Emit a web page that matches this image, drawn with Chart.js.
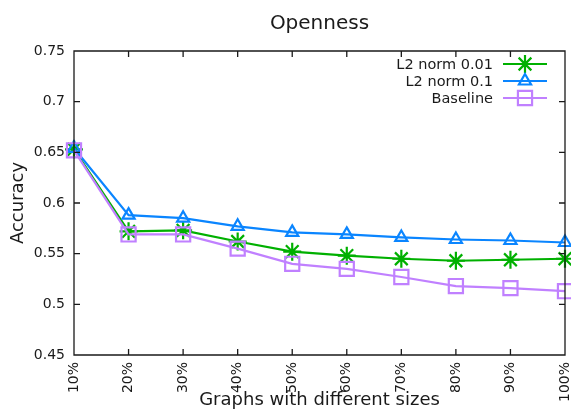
<!DOCTYPE html>
<html>
<head>
<meta charset="utf-8">
<script src="https://cdn.jsdelivr.net/npm/chart.js@4/dist/chart.umd.min.js"></script>
<style>
  html, body { margin: 0; padding: 0; background: #fff; }
  canvas { display: block; }
</style>
</head>
<body>
<canvas id="chart" width="571" height="415"></canvas>
<script>
// Graph size categories
const sizeLabels = ['10%', '20%', '30%', '40%', '50%', '60%', '70%', '80%', '90%', '100%'];

// Accuracy per setting
const l2Norm001 = [0.653, 0.572, 0.573, 0.562, 0.552, 0.548, 0.545, 0.543, 0.544, 0.545];
const l2Norm01  = [0.654, 0.588, 0.585, 0.577, 0.571, 0.569, 0.566, 0.564, 0.563, 0.561];
const baseline  = [0.652, 0.569, 0.569, 0.555, 0.540, 0.535, 0.527, 0.518, 0.516, 0.513];

// Y axis ticks
const yTickValues = [0.45, 0.5, 0.55, 0.6, 0.65, 0.7, 0.75];
const yTickLabels = ['0.45', '0.5', '0.55', '0.6', '0.65', '0.7', '0.75'];

const FONT = 'DejaVu Sans';
const INK = '#1a1a1a';

// Frame around the plot with inward ticks on all four sides
const framePlugin = {
  id: 'frame',
  afterDatasetsDraw(chart) {
    const { ctx, chartArea: a, scales: { x, y } } = chart;
    const t = 6;
    ctx.save();
    ctx.strokeStyle = INK;
    ctx.lineWidth = 1.3;
    ctx.beginPath();
    ctx.rect(a.left, a.top, a.right - a.left, a.bottom - a.top);
    for (let i = 0; i < sizeLabels.length; i++) {
      const px = x.getPixelForValue(i);
      ctx.moveTo(px, a.bottom); ctx.lineTo(px, a.bottom - t);
      ctx.moveTo(px, a.top); ctx.lineTo(px, a.top + t);
    }
    for (const v of yTickValues) {
      const py = y.getPixelForValue(v);
      ctx.moveTo(a.left, py); ctx.lineTo(a.left + t, py);
      ctx.moveTo(a.right, py); ctx.lineTo(a.right - t, py);
    }
    ctx.stroke();
    ctx.restore();
  }
};

// Key in the top-right corner: label, then line sample with its marker
const keyPlugin = {
  id: 'key',
  afterDatasetsDraw(chart) {
    const { ctx, chartArea: a } = chart;
    const textRight = a.right - 72;
    const x0 = a.right - 62, x1 = a.right - 18, xm = (x0 + x1) / 2;
    let yy = a.top + 13;
    ctx.save();
    ctx.font = '14.5px "' + FONT + '"';
    ctx.textAlign = 'right';
    ctx.textBaseline = 'middle';
    chart.data.datasets.slice().sort((p, q) => p.keyIndex - q.keyIndex).forEach(ds => {
      ctx.fillStyle = INK;
      ctx.fillText(ds.label, textRight, yy + 1);
      ctx.strokeStyle = ds.borderColor;
      ctx.lineWidth = ds.borderWidth;
      ctx.beginPath();
      ctx.moveTo(x0, yy); ctx.lineTo(x1, yy);
      ctx.stroke();
      ctx.lineWidth = ds.pointBorderWidth;
      ctx.fillStyle = 'rgba(0,0,0,0)';
      Chart.helpers.drawPoint(ctx, {
        pointStyle: ds.pointStyle, radius: ds.pointRadius, rotation: 0, borderWidth: ds.pointBorderWidth
      }, xm, yy);
      yy += 17;
    });
    ctx.restore();
  }
};

new Chart(document.getElementById('chart'), {
  type: 'line',
  data: {
    labels: sizeLabels,
    datasets: [
      {
        label: 'Baseline', data: baseline, keyIndex: 2, order: 0,
        borderColor: '#c080ff', backgroundColor: 'rgba(0,0,0,0)',
        borderWidth: 2.2, pointStyle: 'rect', pointRadius: 10, pointBorderWidth: 2.2,
        pointBackgroundColor: 'rgba(0,0,0,0)', clip: false
      },
      {
        label: 'L2 norm 0.1', data: l2Norm01, keyIndex: 1, order: 1,
        borderColor: '#0a85ff', backgroundColor: 'rgba(0,0,0,0)',
        borderWidth: 2.2, pointStyle: 'triangle', pointRadius: 7, pointBorderWidth: 2.2,
        pointBackgroundColor: 'rgba(0,0,0,0)', clip: false
      },
      {
        label: 'L2 norm 0.01', data: l2Norm001, keyIndex: 0, order: 2,
        borderColor: '#00b000', backgroundColor: 'rgba(0,0,0,0)',
        borderWidth: 2.2, pointStyle: 'star', pointRadius: 9, pointBorderWidth: 2.2,
        pointBackgroundColor: 'rgba(0,0,0,0)', clip: false
      }
    ]
  },
  options: {
    responsive: false,
    animation: false,
    devicePixelRatio: 1,
    layout: { autoPadding: false, padding: { left: 0, right: 6, top: 0, bottom: 0 } },
    elements: { line: { tension: 0 }, point: { hoverRadius: 10 } },
    plugins: {
      legend: { display: false },
      tooltip: { enabled: false },
      title: {
        display: true, text: 'Openness', color: INK, fullSize: false,
        font: { family: FONT, size: 20, weight: 'normal', lineHeight: 1.2 },
        padding: { top: 12, bottom: 15 }
      }
    },
    scales: {
      x: {
        type: 'category', offset: false,
        grid: { display: false, drawTicks: false },
        border: { display: false },
        afterFit: s => { s.height = 60; s.paddingLeft = 0; s.paddingRight = 0; },
        ticks: {
          autoSkip: false, minRotation: 90, maxRotation: 90, padding: 7, color: INK,
          font: { family: FONT, size: 14 }
        },
        title: {
          display: true, text: 'Graphs with different sizes', color: INK,
          font: { family: FONT, size: 18, lineHeight: 1.2 },
          padding: { top: 0, bottom: 4 }
        }
      },
      y: {
        min: 0.45, max: 0.75,
        grid: { display: false, drawTicks: false },
        border: { display: false },
        afterFit: s => { s.width = 74; s.paddingTop = 0; s.paddingBottom = 0; },
        afterBuildTicks: s => { s.ticks = yTickValues.map(v => ({ value: v })); },
        ticks: {
          padding: 9, color: INK,
          font: { family: FONT, size: 14 },
          callback: (v, i) => yTickLabels[i]
        },
        title: {
          display: true, text: 'Accuracy', color: INK,
          font: { family: FONT, size: 18, lineHeight: 1.2 },
          padding: { top: 8, bottom: 0 }
        }
      }
    }
  },
  plugins: [framePlugin, keyPlugin]
});
</script>
</body>
</html>
